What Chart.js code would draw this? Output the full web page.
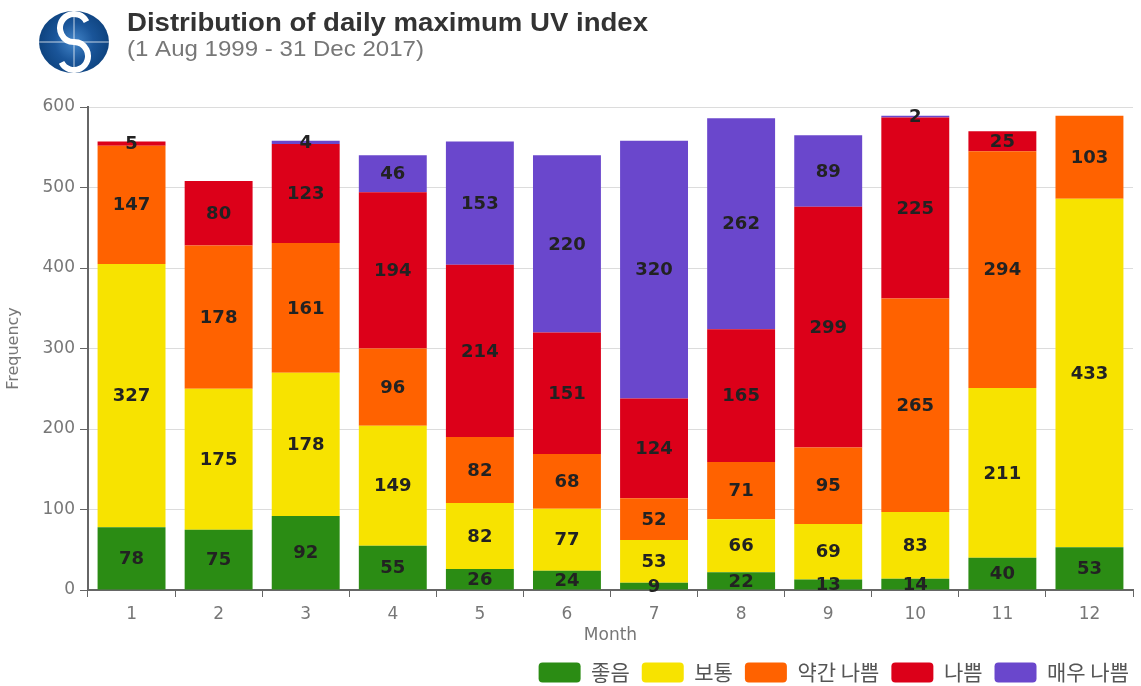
<!DOCTYPE html>
<html>
<head>
<meta charset="utf-8">
<script src="https://cdn.jsdelivr.net/npm/chart.js@4"></script>
<style>
  html, body { margin: 0; padding: 0; background: #fff; }
  #wrap { width: 1141px; height: 686px; position: relative; }
</style>
</head>
<body>
<div id="wrap"><canvas id="uvChart"></canvas></div>
<script>
var months = ['1', '2', '3', '4', '5', '6', '7', '8', '9', '10', '11', '12'];
var goodDays     = [78, 75, 92, 55, 26, 24, 9, 22, 13, 14, 40, 53];
var moderateDays = [327, 175, 178, 149, 82, 77, 53, 66, 69, 83, 211, 433];
var highDays     = [147, 178, 161, 96, 82, 68, 52, 71, 95, 265, 294, 103];
var veryHighDays = [5, 80, 123, 194, 214, 151, 124, 165, 299, 225, 25, 0];
var extremeDays  = [0, 0, 4, 46, 153, 220, 320, 262, 89, 2, 0, 0];
var yTicks = [0, 100, 200, 300, 400, 500, 600];

// draws text squeezed/stretched to a given width
function fitText(c, text, x, y, width) {
    var w = c.measureText(text).width;
    c.save();
    c.translate(x, y);
    c.scale(width / w, 1);
    c.fillText(text, 0, 0);
    c.restore();
}

// header: logo + title
var headerPlugin = {
    id: 'header',
    beforeDraw: function (chart) {
        var c = chart.ctx;
        c.save();
        // logo: blue ellipse with a white S and a thin cross
        var cx = 74, cy = 42, rx = 35, ry = 31;
        var g = c.createRadialGradient(cx, cy, 4, cx, cy, rx);
        g.addColorStop(0, '#3b7cc0');
        g.addColorStop(0.5, '#1a5599');
        g.addColorStop(1, '#0e437f');
        c.fillStyle = g;
        c.beginPath();
        c.ellipse(cx, cy, rx, ry, 0, 0, Math.PI * 2);
        c.fill();
        c.save();
        c.clip();
        c.strokeStyle = '#fff';
        c.lineWidth = 6;
        c.beginPath();
        c.arc(cx, cy - 14, 14, -0.15 * Math.PI, 0.5 * Math.PI, true);
        c.stroke();
        c.beginPath();
        c.arc(cx, cy + 14, 14, 0.85 * Math.PI, -0.5 * Math.PI, true);
        c.stroke();
        c.lineWidth = 1;
        c.strokeStyle = 'rgba(255,255,255,0.75)';
        c.beginPath();
        c.moveTo(cx - rx, cy); c.lineTo(cx + rx, cy);
        c.moveTo(cx, cy - ry); c.lineTo(cx, cy + ry);
        c.stroke();
        c.restore();
        // titles
        c.textBaseline = 'alphabetic';
        c.textAlign = 'left';
        c.fillStyle = '#333';
        c.font = 'bold 25px "Liberation Sans", Arial, sans-serif';
        fitText(c, 'Distribution of daily maximum UV index', 127, 31, 521);
        c.fillStyle = '#777';
        c.font = '22px "Liberation Sans", Arial, sans-serif';
        fitText(c, '(1 Aug 1999 - 31 Dec 2017)', 127, 56, 297);
        c.restore();
    }
};

// value labels inside segments
var valueLabels = {
    id: 'valueLabels',
    afterDatasetsDraw: function (chart) {
        var c = chart.ctx;
        c.save();
        c.font = 'bold 18px "DejaVu Sans", sans-serif';
        c.fillStyle = '#222';
        c.textAlign = 'center';
        c.textBaseline = 'middle';
        chart.data.datasets.forEach(function (ds, i) {
            var meta = chart.getDatasetMeta(i);
            meta.data.forEach(function (bar, j) {
                var v = ds.data[j];
                if (!v) return;
                c.fillText(String(v), bar.x, (bar.y + bar.base) / 2 + 1);
            });
        });
        c.restore();
    }
};

// push the legend row flush with the right edge and a bit lower
var legendShift = {
    id: 'legendShift',
    afterLayout: function (chart) {
        chart.legend.left += 8;
        chart.legend.right += 8;
        chart.legend.top += 6;
        chart.legend.bottom += 6;
    }
};

var tickFont = { size: 17, family: '"DejaVu Sans", sans-serif', lineHeight: 1 };

var ctx = document.getElementById('uvChart').getContext('2d');
var uvChart = new Chart(ctx, {
    type: 'bar',
    data: {
        labels: months,
        datasets: [
            { label: '좋음', data: goodDays, backgroundColor: '#2b8c14' },
            { label: '보통', data: moderateDays, backgroundColor: '#f7e300' },
            { label: '약간 나쁨', data: highDays, backgroundColor: '#ff6200' },
            { label: '나쁨', data: veryHighDays, backgroundColor: '#dc0019' },
            { label: '매우 나쁨', data: extremeDays, backgroundColor: '#6a47cc' }
        ]
    },
    options: {
        responsive: true,
        maintainAspectRatio: false,
        animation: false,
        layout: { padding: { top: 107, left: 4, right: 8, bottom: 0 } },
        datasets: { bar: { categoryPercentage: 1, barPercentage: 0.78 } },
        plugins: {
            legend: {
                position: 'bottom',
                align: 'end',
                labels: {
                    boxWidth: 42,
                    boxHeight: 20,
                    useBorderRadius: true,
                    borderRadius: 4,
                    padding: 12,
                    color: '#555',
                    font: { size: 21, family: '"Noto Sans CJK KR", sans-serif' }
                }
            },
            tooltip: { enabled: false }
        },
        scales: {
            x: {
                stacked: true,
                grid: { drawOnChartArea: false, drawTicks: true, tickLength: 7, color: '#666' },
                border: { color: '#666', width: 2 },
                ticks: { color: '#777', font: tickFont, padding: 9 },
                title: { display: true, text: 'Month', color: '#777', padding: { top: -5, bottom: 0 },
                         font: tickFont }
            },
            y: {
                stacked: true,
                min: 0,
                max: 600,
                afterBuildTicks: function (scale) {
                    scale.ticks = yTicks.map(function (v) { return { value: v }; });
                },
                afterFit: function (scale) { scale.width = 84; },
                grid: { color: '#dcdcdc', tickLength: 8, tickColor: '#666' },
                border: { color: '#666', width: 2 },
                ticks: { color: '#777', font: tickFont, padding: 5 },
                title: { display: true, text: 'Frequency', color: '#777', padding: 0,
                         font: { size: 16, family: '"DejaVu Sans", sans-serif' } }
            }
        }
    },
    plugins: [headerPlugin, valueLabels, legendShift]
});

// legend items need a wide gap between them, but not that much height
var legendFit = uvChart.legend.fit;
uvChart.legend.fit = function () {
    legendFit.call(this);
    this.height = 42;
};
uvChart.update();
</script>
</body>
</html>
